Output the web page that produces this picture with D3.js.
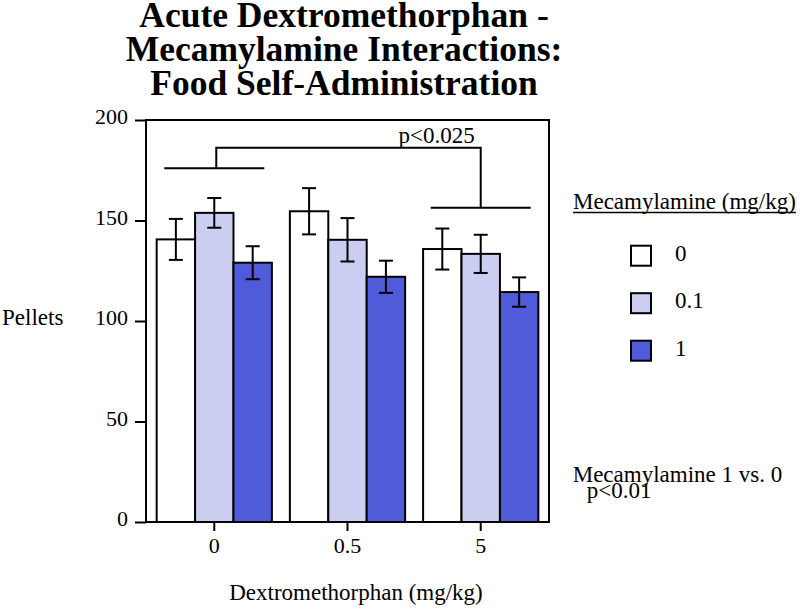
<!DOCTYPE html>
<html>
<head>
<meta charset="utf-8">
<script src="https://cdn.jsdelivr.net/npm/d3@7"></script>
<style>
  body { margin: 0; background: #fff; }
  svg { display: block; }
</style>
</head>
<body>
<div id="chart"></div>
<script>
var doses = ['0', '0.5', '5'];
var mecDoses = ['0', '0.1', '1'];
var meanMec0 = [140.6, 154.6, 135.8];
var meanMec01 = [153.8, 140.4, 133.4];
var meanMec1 = [129.0, 122.0, 114.4];
var semMec0 = [10.2, 11.5, 10.2];
var semMec01 = [7.4, 10.8, 9.5];
var semMec1 = [8.2, 8.0, 7.3];
var yTicks = [0, 50, 100, 150, 200];
var titleLines = ['Acute Dextromethorphan -', 'Mecamylamine Interactions:', 'Food Self-Administration'];
var noteLines = ['Mecamylamine 1 vs. 0', 'p<0.01'];
var bracketGroups = ['0', '5'];
var bracketLevels = [176, 156.4];
var bracketTop = 186.2;
var bracketLabel = 'p<0.025';

var width = 800;
var height = 609;
var font = "'Liberation Serif', 'Times New Roman', serif";
var colors = ['#ffffff', '#cbcdf1', '#4f5bd9'];

var plot = { left: 146, right: 549, top: 120, bottom: 522 };

var means = [meanMec0, meanMec01, meanMec1];
var sems = [semMec0, semMec01, semMec1];

var svg = d3.select('#chart')
  .append('svg')
    .attr('width', width)
    .attr('height', height)
    .attr('viewBox', '0 0 ' + width + ' ' + height)
    .style('font-family', font);

var x = d3.scaleBand()
  .domain(doses)
  .range([plot.left, plot.right])
  .paddingInner(0.135)
  .paddingOuter(0.08);

var xSub = d3.scaleBand()
  .domain(mecDoses)
  .range([0, x.bandwidth()]);

var y = d3.scaleLinear()
  .domain([0, 200])
  .range([plot.bottom, plot.top]);

// title
svg.append('g')
  .selectAll('text')
  .data(titleLines)
  .enter()
  .append('text')
    .attr('x', 344)
    .attr('y', function (d, i) { return 27 + i * 34.2; })
    .attr('text-anchor', 'middle')
    .attr('font-size', 35.5)
    .attr('font-weight', 'bold')
    .text(function (d) { return d; });

// bars
var rows = [];
doses.forEach(function (dose, i) {
  mecDoses.forEach(function (mec, j) {
    rows.push({ dose: dose, mec: mec, j: j, mean: means[j][i], sem: sems[j][i] });
  });
});

svg.append('g')
  .selectAll('rect')
  .data(rows)
  .enter()
  .append('rect')
    .attr('x', function (d) { return x(d.dose) + xSub(d.mec); })
    .attr('y', function (d) { return y(d.mean); })
    .attr('width', xSub.bandwidth())
    .attr('height', function (d) { return y(0) - y(d.mean); })
    .attr('fill', function (d) { return colors[d.j]; })
    .attr('stroke', '#000')
    .attr('stroke-width', 2);

// error bars
var err = svg.append('g')
  .attr('stroke', '#000')
  .attr('stroke-width', 2)
  .selectAll('g')
  .data(rows)
  .enter()
  .append('g')
    .attr('transform', function (d) {
      return 'translate(' + (x(d.dose) + xSub(d.mec) + xSub.bandwidth() / 2) + ',0)';
    });

err.append('line')
  .attr('y1', function (d) { return y(d.mean + d.sem); })
  .attr('y2', function (d) { return y(d.mean - d.sem); });
err.append('line')
  .attr('x1', -7).attr('x2', 7)
  .attr('y1', function (d) { return y(d.mean + d.sem); })
  .attr('y2', function (d) { return y(d.mean + d.sem); });
err.append('line')
  .attr('x1', -7).attr('x2', 7)
  .attr('y1', function (d) { return y(d.mean - d.sem); })
  .attr('y2', function (d) { return y(d.mean - d.sem); });

// frame
svg.append('rect')
  .attr('x', plot.left)
  .attr('y', plot.top)
  .attr('width', plot.right - plot.left)
  .attr('height', plot.bottom - plot.top)
  .attr('fill', 'none')
  .attr('stroke', '#000')
  .attr('stroke-width', 2);

// axes
var yAxis = svg.append('g')
  .attr('transform', 'translate(' + plot.left + ',0)')
  .call(d3.axisLeft(y).tickValues(yTicks).tickSize(11).tickPadding(7));

var xAxis = svg.append('g')
  .attr('transform', 'translate(0,' + plot.bottom + ')')
  .call(d3.axisBottom(x).tickSize(9).tickSizeOuter(0).tickPadding(6));

[yAxis, xAxis].forEach(function (a) {
  a.attr('font-family', font).attr('font-size', 22);
  a.select('.domain').remove();
  a.selectAll('.tick line').attr('stroke', '#000').attr('stroke-width', 2);
  a.selectAll('.tick text').attr('fill', '#000');
});
yAxis.selectAll('.tick text').attr('dy', '0.18em');

svg.append('text')
  .attr('x', 2)
  .attr('y', 325)
  .attr('font-size', 23)
  .text('Pellets');

svg.append('text')
  .attr('x', 356)
  .attr('y', 600)
  .attr('text-anchor', 'middle')
  .attr('font-size', 23)
  .text('Dextromethorphan (mg/kg)');

// significance bracket
var br = svg.append('g')
  .attr('stroke', '#000')
  .attr('stroke-width', 2)
  .attr('fill', 'none');

bracketGroups.forEach(function (g, i) {
  var cx = x(g) + x.bandwidth() / 2;
  br.append('line')
    .attr('x1', cx - 50).attr('x2', cx + 50)
    .attr('y1', y(bracketLevels[i])).attr('y2', y(bracketLevels[i]));
});

var bx0 = x(bracketGroups[0]) + x.bandwidth() / 2 + 2;
var bx1 = x(bracketGroups[1]) + x.bandwidth() / 2;
br.append('path')
  .attr('d', d3.line()([
    [bx0, y(bracketLevels[0])],
    [bx0, y(bracketTop)],
    [bx1, y(bracketTop)],
    [bx1, y(bracketLevels[1])]
  ]));

svg.append('text')
  .attr('x', bx1 - 44)
  .attr('y', y(bracketTop) - 5)
  .attr('text-anchor', 'middle')
  .attr('font-size', 23)
  .text(bracketLabel);

// legend
var legendTitle = svg.append('text')
  .attr('x', 573)
  .attr('y', 209)
  .attr('font-size', 23)
  .text('Mecamylamine (mg/kg)');

svg.append('line')
  .attr('x1', 573)
  .attr('x2', 573 + legendTitle.node().getComputedTextLength())
  .attr('y1', 212.5)
  .attr('y2', 212.5)
  .attr('stroke', '#000')
  .attr('stroke-width', 1.5);

var legend = svg.append('g')
  .selectAll('g')
  .data(mecDoses)
  .enter()
  .append('g')
    .attr('transform', function (d, i) {
      return 'translate(631,' + (245.7 + i * 47.5) + ')';
    });

legend.append('rect')
  .attr('width', 20)
  .attr('height', 20)
  .attr('fill', function (d, i) { return colors[i]; })
  .attr('stroke', '#000')
  .attr('stroke-width', 2);

legend.append('text')
  .attr('x', 44)
  .attr('y', 15)
  .attr('font-size', 23)
  .text(function (d) { return d; });

// note
svg.append('g')
  .selectAll('text')
  .data(noteLines)
  .enter()
  .append('text')
    .attr('x', function (d, i) { return i ? 586.7 : 572.7; })
    .attr('y', function (d, i) { return 481.7 + i * 16.5; })
    .attr('font-size', 23)
    .text(function (d) { return d; });
</script>
</body>
</html>
